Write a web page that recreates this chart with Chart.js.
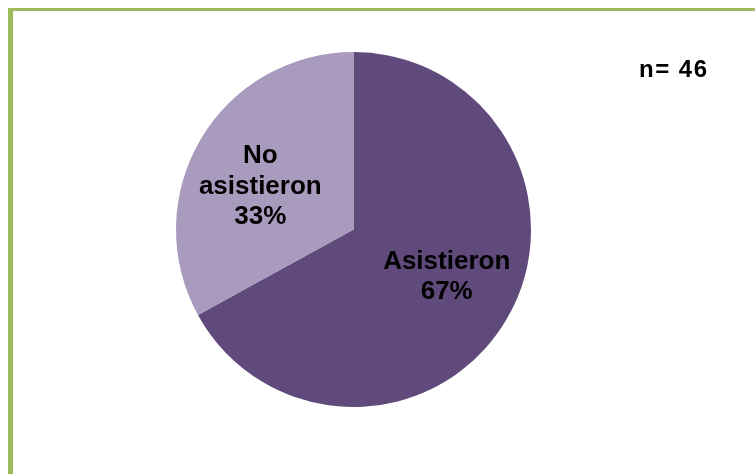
<!DOCTYPE html>
<html>
<head>
<meta charset="utf-8">
<script src="https://cdn.jsdelivr.net/npm/chart.js@4.4.0/dist/chart.umd.min.js"></script>
<style>
  html, body { margin: 0; padding: 0; background: #fff; }
  #wrap { position: relative; width: 755px; height: 474px; overflow: hidden; }
  #frame {
    position: absolute; left: 8px; top: 8px; width: 800px; height: 500px;
    border-left: 5px solid #9BBB59; border-top: 3px solid #9BBB59;
  }
  #myChart { position: absolute; left: 0; top: 0; }
</style>
</head>
<body>
<div id="wrap">
  <div id="frame"></div>
  <canvas id="myChart" width="755" height="474"></canvas>
</div>
<script>
var categories = ["Asistieron", "No asistieron"];
var percents = [67, 33];
var sampleSize = 46;
var sliceColors = ["#604A7B", "#A99BBD"];

// labels inside the slices, plus the n= note top right
var sliceLabels = {
  id: "sliceLabels",
  afterDatasetsDraw: function (chart) {
    var ctx = chart.ctx;
    var meta = chart.getDatasetMeta(0);
    ctx.save();
    ctx.fillStyle = "#000";
    ctx.font = "bold 26px 'Liberation Sans', Arial, sans-serif";
    ctx.textAlign = "center";
    ctx.textBaseline = "alphabetic";
    meta.data.forEach(function (arc, i) {
      var p = arc.getProps(["x", "y", "startAngle", "endAngle", "outerRadius"], true);
      var mid = (p.startAngle + p.endAngle) / 2;
      var cx = p.x + Math.cos(mid) * p.outerRadius * 0.61;
      var cy = p.y + Math.sin(mid) * p.outerRadius * 0.5;
      var lines;
      if (i === 1) lines = ["No", "asistieron", percents[i] + "%"];
      else lines = [categories[i], percents[i] + "%"];
      var lh = 30.5;
      // baseline of the first line, block centred on (cx, cy)
      var y0 = cy + 9.5 - (lines.length - 1) * lh / 2;
      lines.forEach(function (t, k) {
        ctx.fillText(t, cx, y0 + k * lh);
      });
    });
    ctx.textAlign = "left";
    ctx.font = "bold 24px 'Liberation Sans', Arial, sans-serif";
    ctx.letterSpacing = "1.5px";
    ctx.fillText("n= " + sampleSize, 639, 77);
    ctx.restore();
  }
};

new Chart("myChart", {
  type: "pie",
  data: {
    labels: categories,
    datasets: [{
      data: percents,
      backgroundColor: sliceColors,
      borderWidth: 0
    }]
  },
  options: {
    responsive: false,
    animation: false,
    layout: { padding: { left: 176, right: 224, top: 52, bottom: 67 } },
    plugins: {
      legend: { display: false },
      tooltip: { enabled: false }
    }
  },
  plugins: [sliceLabels]
});
</script>
</body>
</html>
